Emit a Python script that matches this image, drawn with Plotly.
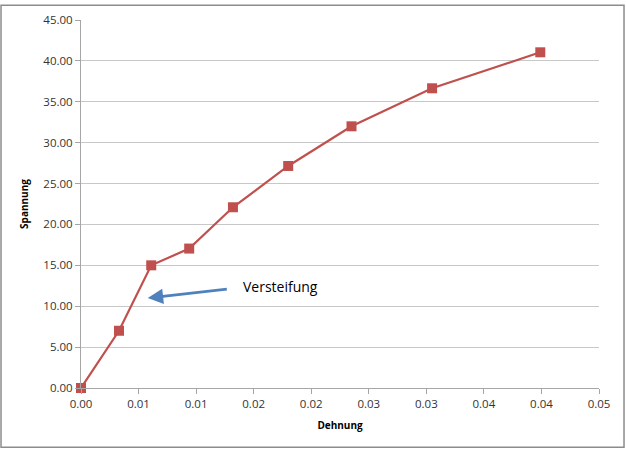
import plotly.graph_objects as go

dehnung = [0.0, 0.0033, 0.0061, 0.0094, 0.0132, 0.0180, 0.0235, 0.0305, 0.0399]
spannung = [0.0, 7.0, 15.0, 17.05, 22.1, 27.15, 32.0, 36.65, 41.05]
x_tickvals = [0.0, 0.005, 0.010, 0.015, 0.020, 0.025, 0.030, 0.035, 0.040, 0.045]
x_ticktext = ["0.00", "0.01", "0.01", "0.02", "0.02", "0.03", "0.03", "0.04", "0.04", "0.05"]
y_tickvals = [0, 5, 10, 15, 20, 25, 30, 35, 40, 45]
y_ticktext = ["0.00", "5.00", "10.00", "15.00", "20.00", "25.00", "30.00", "35.00", "40.00", "45.00"]

arrow_tip = (0.0058, 11.0)
arrow_tail = (0.0128, 12.1)
label_pos = (0.0139, 12.45)
label_text = "Versteifung"

red = "#C0504D"
font = "Open Sans"

fig = go.Figure()
fig.add_trace(go.Scatter(
    x=dehnung, y=spannung, mode="lines+markers",
    line=dict(color=red, width=2.2),
    marker=dict(symbol="square", size=10, color=red),
    showlegend=False, cliponaxis=False,
))

fig.add_annotation(
    x=arrow_tip[0], y=arrow_tip[1], ax=arrow_tail[0], ay=arrow_tail[1],
    xref="x", yref="y", axref="x", ayref="y",
    text="", showarrow=True, arrowhead=2, arrowsize=1.1, arrowwidth=2.8,
    arrowcolor="#4F81BD",
)
fig.add_annotation(
    x=label_pos[0], y=label_pos[1], xref="x", yref="y",
    text=label_text, showarrow=False, xanchor="left", yanchor="middle",
    font=dict(family=font, size=14, color="#000000"),
)

fig.add_shape(
    type="rect", xref="paper", yref="paper",
    x0=-0.1544, x1=1.0483, y0=-0.1613, y1=1.0403,
    line=dict(color="#8C8C8C", width=1.5), fillcolor="rgba(0,0,0,0)", layer="below",
)

fig.update_layout(
    width=626, height=450,
    margin=dict(l=81, r=27, t=16, b=62),
    paper_bgcolor="white", plot_bgcolor="white",
    font=dict(family=font, size=11, color="#404040"),
    xaxis=dict(
        range=[0, 0.045], tickvals=x_tickvals, ticktext=x_ticktext,
        showgrid=False, zeroline=False, showline=True, linecolor="#A6A6A6", linewidth=1,
        ticks="outside", ticklen=5, tickcolor="#A6A6A6",
        title=dict(text="<b>Dehnung</b>", font=dict(family=font, size=10, color="#000"), standoff=12),
        tickfont=dict(family=font, size=11.5, color="#333333"),
    ),
    yaxis=dict(
        range=[0, 45], tickvals=y_tickvals, ticktext=y_ticktext,
        showgrid=True, gridcolor="#C8C8C8", gridwidth=1, zeroline=False,
        showline=True, linecolor="#A6A6A6", linewidth=1,
        ticks="outside", ticklen=5, tickcolor="#A6A6A6",
        title=dict(text="<b>Spannung</b>", font=dict(family=font, size=10, color="#000"), standoff=12),
        tickfont=dict(family=font, size=11.5, color="#333333"),
    ),
)

fig.write_html("out.html", config={"displayModeBar": False},
               post_script="document.body.style.margin='0';")
